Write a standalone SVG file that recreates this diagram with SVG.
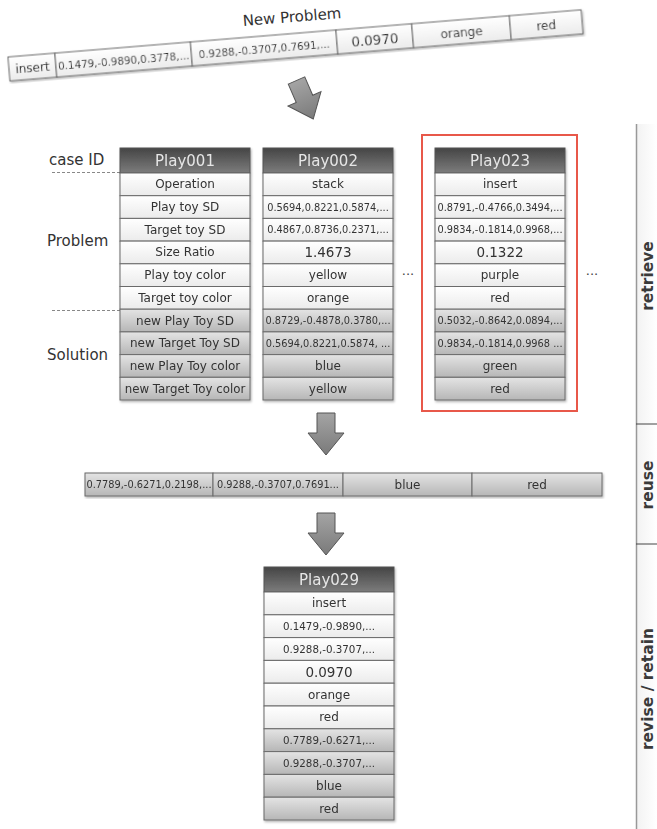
<svg xmlns="http://www.w3.org/2000/svg" width="657" height="829" viewBox="0 0 657 829">
<style>
text{font-family:"DejaVu Sans","Liberation Sans",sans-serif;fill:#333;text-anchor:middle;dominant-baseline:central}
.hdr{fill:url(#gHdr);stroke:#555;stroke-width:1}
.hdrt{fill:#e6e6e6;font-size:15px}
.p{fill:url(#gProb);stroke:#6a6a6a;stroke-width:1}
.s{fill:url(#gSol);stroke:#6a6a6a;stroke-width:1}
.t12{font-size:12px}
.t13{font-size:13.5px}
.n{font-size:9.8px}
.n2{font-size:10.3px}
.lbl{font-size:15px;text-anchor:start}
.side{font-size:15.5px;font-weight:bold;fill:#3a3a3a}
.dots{font-size:13px;fill:#444}
.arrow{fill:url(#gArr);stroke:#555;stroke-width:1}
.dash{stroke:#888;stroke-width:1;stroke-dasharray:3,2;fill:none}
</style>
<defs>
<linearGradient id="gHdr" x1="0" y1="0" x2="0" y2="1"><stop offset="0" stop-color="#454545"/><stop offset="1" stop-color="#7c7c7c"/></linearGradient>
<linearGradient id="gProb" x1="0" y1="0" x2="0" y2="1"><stop offset="0" stop-color="#ffffff"/><stop offset="1" stop-color="#ebebeb"/></linearGradient>
<linearGradient id="gSol" x1="0" y1="0" x2="0" y2="1"><stop offset="0" stop-color="#e4e4e4"/><stop offset="1" stop-color="#b6b6b6"/></linearGradient>
<linearGradient id="gArr" x1="0" y1="0" x2="0" y2="1"><stop offset="0" stop-color="#a4a4a4"/><stop offset="1" stop-color="#7a7a7a"/></linearGradient>
<linearGradient id="gSide" x1="0" y1="0" x2="1" y2="0"><stop offset="0" stop-color="#f2f2f2"/><stop offset="1" stop-color="#ffffff"/></linearGradient>
<filter id="sh" x="-10%" y="-10%" width="120%" height="120%"><feDropShadow dx="1" dy="1.5" stdDeviation="1.2" flood-color="#000" flood-opacity="0.3"/></filter>
<path id="arr" d="M-9,0 L9,0 L9,20 L18,20 L0,42 L-18,20 L-9,20 Z"/>
</defs>
<rect width="657" height="829" fill="#fff"/>

<!-- side phase bar -->
<g id="phases">
<rect x="636" y="124" width="21" height="705" fill="url(#gSide)"/>
<line x1="636.5" y1="124" x2="636.5" y2="829" stroke="#999" stroke-width="1.5"/>
<line x1="636" y1="424" x2="657" y2="424" stroke="#444" stroke-width="1"/>
<line x1="636" y1="544" x2="657" y2="544" stroke="#444" stroke-width="1"/>
<text class="side" transform="translate(648,276) rotate(-90)">retrieve</text>
<text class="side" transform="translate(648,485) rotate(-90)">reuse</text>
<text class="side" transform="translate(648,689) rotate(-90)">revise / retain</text>
</g>

<!-- new problem -->
<g id="newProblem">
<text transform="translate(292,17) rotate(-4.7)" style="font-size:15px">New Problem</text>
<g transform="translate(8,57) rotate(-4.7)" filter="url(#sh)">
<rect class="p" x="0" y="0" width="47" height="24"/>
<rect class="p" x="47" y="0" width="136" height="24"/>
<rect class="p" x="183" y="0" width="146" height="24"/>
<rect class="p" x="329" y="0" width="76" height="24"/>
<rect class="p" x="405" y="0" width="98" height="24"/>
<rect class="p" x="503" y="0" width="72" height="24"/>
<text class="t12" x="23.5" y="12.5">insert</text>
<text class="n2" x="115" y="12.5">0.1479,-0.9890,0.3778,...</text>
<text class="n2" x="256" y="12.5">0.9288,-0.3707,0.7691,...</text>
<text class="t13" x="367" y="12.5">0.0970</text>
<text class="t12" x="454" y="12.5">orange</text>
<text class="t12" x="539" y="12.5">red</text>
</g>
</g>

<!-- connectors -->
<g id="connectors">
<use href="#arr" class="arrow" transform="translate(296.5,80.5) rotate(-23.5)"/>
<use href="#arr" class="arrow" transform="translate(326,413)"/>
<use href="#arr" class="arrow" transform="translate(326,513)"/>
</g>

<!-- labels -->
<g id="labels">
<text class="lbl" x="49" y="160">case ID</text>
<text class="lbl" x="47" y="241">Problem</text>
<text class="lbl" x="47" y="355">Solution</text>
<line class="dash" x1="52" y1="172.5" x2="120" y2="172.5"/>
<line class="dash" x1="52" y1="310.5" x2="120" y2="310.5"/>
<text class="dots" x="408" y="270">...</text>
<text class="dots" x="592" y="270">...</text>
</g>

<!-- Play001 -->
<g id="play001" transform="translate(120,0)" filter="url(#sh)">
<rect class="hdr" x="0" y="148" width="130" height="25"/>
<text class="hdrt" x="65" y="160.5">Play001</text>
<rect class="p" x="0" y="173" width="130" height="22.7"/>
<rect class="p" x="0" y="195.7" width="130" height="22.7"/>
<rect class="p" x="0" y="218.4" width="130" height="22.7"/>
<rect class="p" x="0" y="241.1" width="130" height="22.7"/>
<rect class="p" x="0" y="263.8" width="130" height="22.7"/>
<rect class="p" x="0" y="286.5" width="130" height="22.7"/>
<rect class="s" x="0" y="309.2" width="130" height="22.7"/>
<rect class="s" x="0" y="331.9" width="130" height="22.7"/>
<rect class="s" x="0" y="354.6" width="130" height="22.7"/>
<rect class="s" x="0" y="377.3" width="130" height="22.7"/>
<text class="t12" x="65" y="184.35">Operation</text>
<text class="t12" x="65" y="207.05">Play toy SD</text>
<text class="t12" x="65" y="229.75">Target toy SD</text>
<text class="t12" x="65" y="252.45">Size Ratio</text>
<text class="t12" x="65" y="275.15">Play toy color</text>
<text class="t12" x="65" y="297.85">Target toy color</text>
<text class="t12" x="65" y="320.55">new Play Toy SD</text>
<text class="t12" x="65" y="343.25">new Target Toy SD</text>
<text class="t12" x="65" y="365.95">new Play Toy color</text>
<text class="t12" x="65" y="388.65" style="font-size:11.8px">new Target Toy color</text>
</g>

<!-- Play002 -->
<g id="play002" transform="translate(263,0)" filter="url(#sh)">
<rect class="hdr" x="0" y="148" width="130" height="25"/>
<text class="hdrt" x="65" y="160.5">Play002</text>
<rect class="p" x="0" y="173" width="130" height="22.7"/>
<rect class="p" x="0" y="195.7" width="130" height="22.7"/>
<rect class="p" x="0" y="218.4" width="130" height="22.7"/>
<rect class="p" x="0" y="241.1" width="130" height="22.7"/>
<rect class="p" x="0" y="263.8" width="130" height="22.7"/>
<rect class="p" x="0" y="286.5" width="130" height="22.7"/>
<rect class="s" x="0" y="309.2" width="130" height="22.7"/>
<rect class="s" x="0" y="331.9" width="130" height="22.7"/>
<rect class="s" x="0" y="354.6" width="130" height="22.7"/>
<rect class="s" x="0" y="377.3" width="130" height="22.7"/>
<text class="t12" x="65" y="184.35">stack</text>
<text class="n" x="65" y="207.05">0.5694,0.8221,0.5874,...</text>
<text class="n" x="65" y="229.75">0.4867,0.8736,0.2371,...</text>
<text class="t13" x="65" y="252.45">1.4673</text>
<text class="t12" x="65" y="275.15">yellow</text>
<text class="t12" x="65" y="297.85">orange</text>
<text class="n" x="65" y="320.55">0.8729,-0.4878,0.3780,...</text>
<text class="n" x="65" y="343.25">0.5694,0.8221,0.5874, ...</text>
<text class="t12" x="65" y="365.95">blue</text>
<text class="t12" x="65" y="388.65">yellow</text>
</g>

<!-- Play023 (highlighted) -->
<g id="play023">
<rect x="422" y="135" width="155" height="276" fill="none" stroke="#e8584a" stroke-width="2"/>
<g transform="translate(435,0)" filter="url(#sh)">
<rect class="hdr" x="0" y="148" width="130" height="25"/>
<text class="hdrt" x="65" y="160.5">Play023</text>
<rect class="p" x="0" y="173" width="130" height="22.7"/>
<rect class="p" x="0" y="195.7" width="130" height="22.7"/>
<rect class="p" x="0" y="218.4" width="130" height="22.7"/>
<rect class="p" x="0" y="241.1" width="130" height="22.7"/>
<rect class="p" x="0" y="263.8" width="130" height="22.7"/>
<rect class="p" x="0" y="286.5" width="130" height="22.7"/>
<rect class="s" x="0" y="309.2" width="130" height="22.7"/>
<rect class="s" x="0" y="331.9" width="130" height="22.7"/>
<rect class="s" x="0" y="354.6" width="130" height="22.7"/>
<rect class="s" x="0" y="377.3" width="130" height="22.7"/>
<text class="t12" x="65" y="184.35">insert</text>
<text class="n" x="65" y="207.05">0.8791,-0.4766,0.3494,...</text>
<text class="n" x="65" y="229.75">0.9834,-0.1814,0.9968,...</text>
<text class="t13" x="65" y="252.45">0.1322</text>
<text class="t12" x="65" y="275.15">purple</text>
<text class="t12" x="65" y="297.85">red</text>
<text class="n" x="65" y="320.55">0.5032,-0.8642,0.0894,...</text>
<text class="n" x="65" y="343.25">0.9834,-0.1814,0.9968 ...</text>
<text class="t12" x="65" y="365.95">green</text>
<text class="t12" x="65" y="388.65">red</text>
</g>
</g>

<!-- reused solution -->
<g id="reuseSolution" filter="url(#sh)">
<rect class="s" x="85" y="473" width="128" height="23"/>
<rect class="s" x="213" y="473" width="130" height="23"/>
<rect class="s" x="343" y="473" width="129" height="23"/>
<rect class="s" x="472" y="473" width="130" height="23"/>
<text class="n" x="149" y="484.5">0.7789,-0.6271,0.2198,...</text>
<text class="n" x="278" y="484.5">0.9288,-0.3707,0.7691...</text>
<text class="t12" x="407.5" y="484.5">blue</text>
<text class="t12" x="537" y="484.5">red</text>
</g>

<!-- Play029 -->
<g id="play029" transform="translate(264,0)" filter="url(#sh)">
<rect class="hdr" x="0" y="567" width="130" height="25"/>
<text class="hdrt" x="65" y="579.5">Play029</text>
<rect class="p" x="0" y="592" width="130" height="22.8"/>
<rect class="p" x="0" y="614.8" width="130" height="22.8"/>
<rect class="p" x="0" y="637.6" width="130" height="22.8"/>
<rect class="p" x="0" y="660.4" width="130" height="22.8"/>
<rect class="p" x="0" y="683.2" width="130" height="22.8"/>
<rect class="p" x="0" y="706" width="130" height="22.8"/>
<rect class="s" x="0" y="728.8" width="130" height="22.8"/>
<rect class="s" x="0" y="751.6" width="130" height="22.8"/>
<rect class="s" x="0" y="774.4" width="130" height="22.8"/>
<rect class="s" x="0" y="797.2" width="130" height="22.8"/>
<text class="t12" x="65" y="603.4">insert</text>
<text class="n2" x="65" y="626.2">0.1479,-0.9890,...</text>
<text class="n2" x="65" y="649">0.9288,-0.3707,...</text>
<text class="t13" x="65" y="671.8">0.0970</text>
<text class="t12" x="65" y="694.6">orange</text>
<text class="t12" x="65" y="717.4">red</text>
<text class="n2" x="65" y="740.2">0.7789,-0.6271,...</text>
<text class="n2" x="65" y="763">0.9288,-0.3707,...</text>
<text class="t12" x="65" y="785.8">blue</text>
<text class="t12" x="65" y="808.6">red</text>
</g>
</svg>
